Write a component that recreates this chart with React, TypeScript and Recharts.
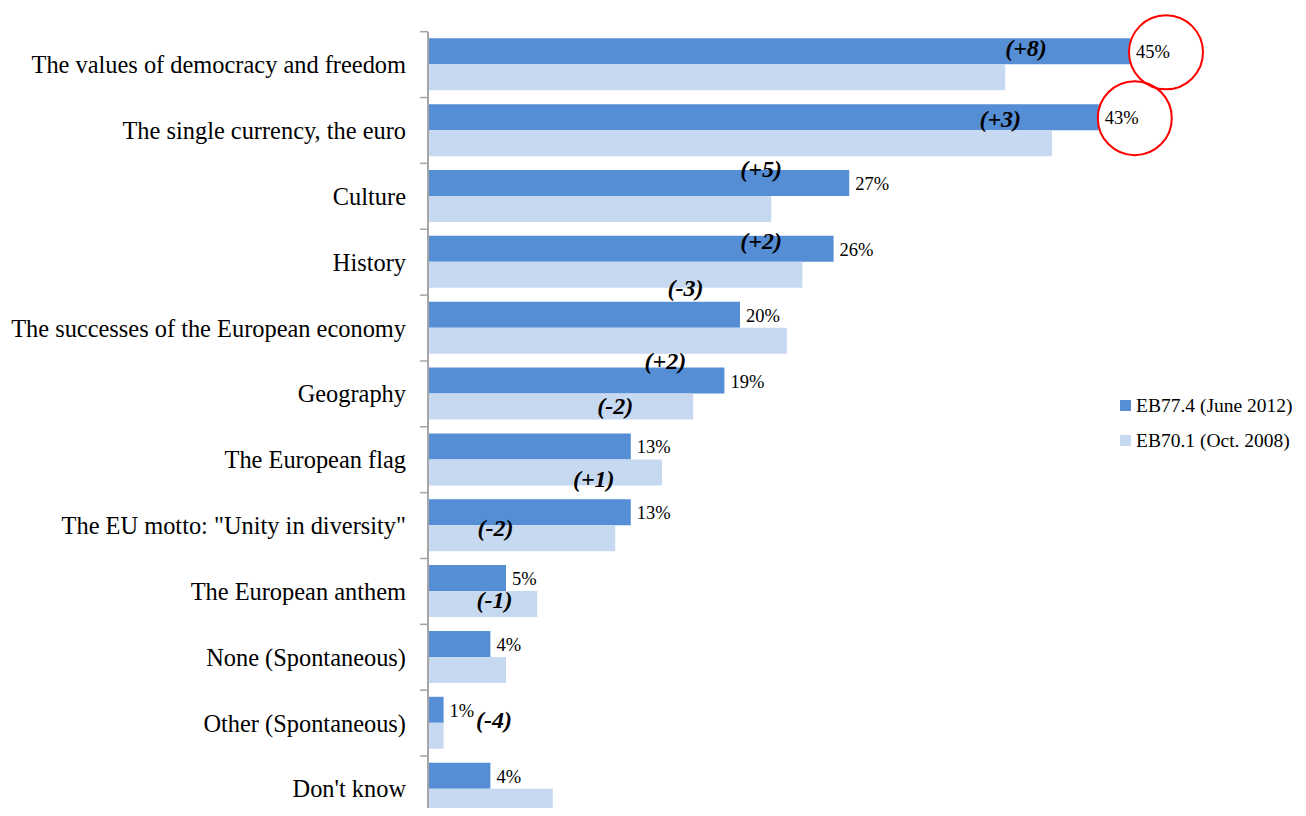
import { Bar, BarChart, LabelList, Legend, XAxis, YAxis } from "recharts";

const categories = [
  "The values of democracy and freedom",
  "The single currency, the euro",
  "Culture",
  "History",
  "The successes of the European economy",
  "Geography",
  "The European flag",
  'The EU motto: "Unity in diversity"',
  "The European anthem",
  "None (Spontaneous)",
  "Other (Spontaneous)",
  "Don't know",
];
const seriesNames = ["EB77.4 (June 2012)", "EB70.1 (Oct. 2008)"];
const june2012 = [45, 43, 27, 26, 20, 19, 13, 13, 5, 4, 1, 4];
const oct2008 = [37, 40, 22, 24, 23, 17, 15, 12, 7, 5, 1, 8];
const changes = ["(+8)", "(+3)", "(+5)", "(+2)", "(-3)", "(+2)", "(-2)", "(+1)", "(-2)", "(-1)", null, "(-4)"];
const circled = [true, true, false, false, false, false, false, false, false, false, false, false];

const data = categories.map((cat, i) => ({ cat, june: june2012[i], oct: oct2008[i] }));

const FONT = "'Liberation Serif', 'Times New Roman', serif";
const DARK = "#558ED5";
const LIGHT = "#C6D9F1";
const AXIS = "#A6A6A6";

const W = 1290;
const H = 830;
const TOP = 23.7;
const PLOT_H = 790.2;
const BAND = PLOT_H / categories.length;
const AXIS_X = 420;

// where each change note sits, relative to the end / top of the dark bar
const notePos: ([number, number] | null)[] = [
  [-104, 12], [-98.5, 16.5], [-88, 1], [-72.5, 7], [-54.5, -12], [-59, -4.5],
  [-15.5, -25], [-37, -18], [-10.5, -35], [4, -29], null, [3.5, -41],
];

function CatTick(props: any) {
  const { y, payload, index } = props;
  const top = y - BAND / 2;
  return (
    <g>
      <line x1={AXIS_X - 8} x2={AXIS_X} y1={top} y2={top} stroke={AXIS} strokeWidth={1.5} />
      {index === categories.length - 1 && (
        <line x1={AXIS_X - 8} x2={AXIS_X} y1={top + BAND} y2={top + BAND} stroke={AXIS} strokeWidth={1.5} />
      )}
      <text x={AXIS_X - 22} y={y + 8.5} textAnchor="end" fontSize={24.4} fontFamily={FONT} fill="#000">
        {payload.value}
      </text>
    </g>
  );
}

function ValueLabel(props: any) {
  const { x, y, width, height, index, value } = props;
  const end = x + width;
  const cy = y + height / 2;
  return (
    <g>
      <text x={end + 6} y={cy + 7} fontSize={18.5} fontFamily={FONT} fill="#000">
        {value}%
      </text>
      {circled[index] && (
        <circle cx={end + 36} cy={cy + 1} r={37} fill="none" stroke="#FF0000" strokeWidth={2} />
      )}
    </g>
  );
}

function NoteLabel(props: any) {
  const { x, y, width, height, index, value } = props;
  const text = changes[index];
  const pos = notePos[index];
  if (!text || !pos) return null;
  const k = width / value;
  const darkEnd = x + june2012[index] * k;
  const darkTop = y - height;
  return (
    <text
      x={darkEnd + pos[0]}
      y={darkTop + pos[1] + 6}
      textAnchor="middle"
      fontSize={24}
      fontWeight="bold"
      fontStyle="italic"
      fontFamily={FONT}
      fill="#000"
    >
      {text}
    </text>
  );
}

function LegendBox(props: any) {
  const items = [...(props.payload || [])].sort(
    (a: any, b: any) => seriesNames.indexOf(a.value) - seriesNames.indexOf(b.value)
  );
  return (
    <div style={{ fontFamily: FONT, fontSize: 19.5, color: "#000", width: 175 }}>
      {items.map((p: any) => (
        <div key={p.value} style={{ display: "flex", alignItems: "center", height: 34.3, lineHeight: "22px" }}>
          <span style={{ width: 11, height: 11, flex: "none", background: p.color, marginRight: 5, marginTop: -1 }} />
          <span style={{ whiteSpace: "nowrap" }}>{p.value}</span>
        </div>
      ))}
    </div>
  );
}

export default function App() {
  // the plot runs past the bottom of the window, as in the original; clip it so the page does not scroll
  return (
    <div style={{ width: W, height: 808, overflow: "hidden", marginBottom: -8 }}>
      <BarChart
        width={W}
        height={H}
        data={data}
        layout="vertical"
        margin={{ top: TOP, right: 90, bottom: H - TOP - PLOT_H, left: 0 }}
        barCategoryGap="10%"
        barGap={0}
      >
        <XAxis type="number" domain={[0, 50]} hide />
        <YAxis
          type="category"
          dataKey="cat"
          width={AXIS_X}
          interval={0}
          axisLine={{ stroke: AXIS, strokeWidth: 2 }}
          tickLine={false}
          tick={(p: any) => <CatTick {...p} />}
        />
        <Legend
          layout="horizontal"
          verticalAlign="middle"
          align="center"
          content={(p: any) => <LegendBox {...p} />}
          wrapperStyle={{ position: "absolute", left: 1112, top: 381.2, width: 175, height: "auto" }}
        />
        <Bar dataKey="june" name={seriesNames[0]} fill={DARK} isAnimationActive={false}>
          <LabelList dataKey="june" content={(p: any) => <ValueLabel {...p} />} />
        </Bar>
        <Bar dataKey="oct" name={seriesNames[1]} fill={LIGHT} isAnimationActive={false}>
          <LabelList dataKey="oct" content={(p: any) => <NoteLabel {...p} />} />
        </Bar>
      </BarChart>
    </div>
  );
}
